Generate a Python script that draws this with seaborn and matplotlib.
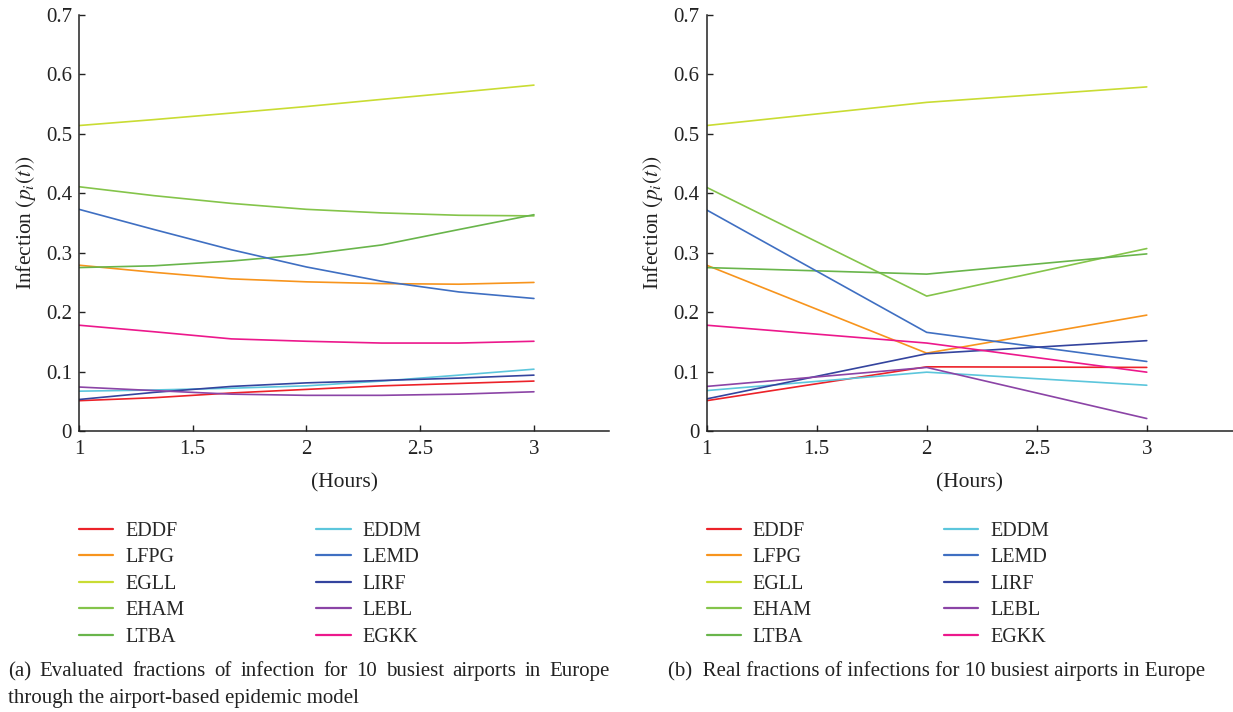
import numpy as np
import pandas as pd
import seaborn as sns
import matplotlib.pyplot as plt
from matplotlib.ticker import FuncFormatter

# Airports and colours
airports = ["EDDF", "LFPG", "EGLL", "EHAM", "LTBA", "EDDM", "LEMD", "LIRF", "LEBL", "EGKK"]
colors = ["#ec2229", "#f7941d", "#c9dc33", "#84c44a", "#69b54b",
          "#5cc6dc", "#3f6fc2", "#34449e", "#8b44a6", "#ec188c"]

# (a) evaluated by the airport-based epidemic model
hours_model = [1, 1.33, 1.67, 2, 2.33, 2.67, 3]
model_eddf = [0.051, 0.056, 0.064, 0.070, 0.076, 0.080, 0.084]
model_lfpg = [0.279, 0.267, 0.256, 0.251, 0.248, 0.247, 0.250]
model_egll = [0.514, 0.524, 0.535, 0.546, 0.558, 0.570, 0.582]
model_eham = [0.411, 0.396, 0.383, 0.373, 0.367, 0.363, 0.362]
model_ltba = [0.275, 0.278, 0.286, 0.297, 0.313, 0.339, 0.364]
model_eddm = [0.067, 0.069, 0.072, 0.076, 0.084, 0.094, 0.104]
model_lemd = [0.373, 0.339, 0.305, 0.276, 0.252, 0.234, 0.223]
model_lirf = [0.053, 0.065, 0.075, 0.081, 0.085, 0.089, 0.094]
model_lebl = [0.074, 0.068, 0.062, 0.060, 0.060, 0.062, 0.066]
model_egkk = [0.178, 0.167, 0.155, 0.151, 0.148, 0.148, 0.151]

# (b) real fractions
hours_real = [1, 2, 3]
real_eddf = [0.051, 0.108, 0.107]
real_lfpg = [0.279, 0.131, 0.195]
real_egll = [0.514, 0.553, 0.579]
real_eham = [0.410, 0.227, 0.307]
real_ltba = [0.275, 0.264, 0.298]
real_eddm = [0.068, 0.099, 0.077]
real_lemd = [0.372, 0.166, 0.117]
real_lirf = [0.054, 0.130, 0.152]
real_lebl = [0.075, 0.107, 0.021]
real_egkk = [0.178, 0.148, 0.099]

model_vals = [model_eddf, model_lfpg, model_egll, model_eham, model_ltba,
              model_eddm, model_lemd, model_lirf, model_lebl, model_egkk]
real_vals = [real_eddf, real_lfpg, real_egll, real_eham, real_ltba,
             real_eddm, real_lemd, real_lirf, real_lebl, real_egkk]

caption_a1 = "(a) Evaluated fractions of infection for 10 busiest airports in Europe"
caption_a2 = "through the airport-based epidemic model"
caption_b = "(b)  Real fractions of infections for 10 busiest airports in Europe"


def long_df(hours, vals):
    rows = []
    for name, v in zip(airports, vals):
        for h, y in zip(hours, v):
            rows.append({"hours": h, "infection": y, "airport": name})
    return pd.DataFrame(rows)


sns.set_theme(style="white")
plt.rcParams["font.family"] = ["Liberation Serif", "DejaVu Serif"]
plt.rcParams["mathtext.fontset"] = "stix"

W, H = 1233, 712
fig = plt.figure(figsize=(W / 100, H / 100), dpi=100)
palette = dict(zip(airports, colors))
ink = "#222222"


def panel(rect, df, xmax):
    ax = fig.add_axes(rect)
    sns.lineplot(data=df, x="hours", y="infection", hue="airport", hue_order=airports,
                 palette=palette, linewidth=1.2, ax=ax, estimator=None, sort=False)
    ax.set_xlim(1, xmax)
    ax.set_ylim(0, 0.7)
    ax.set_xticks([1, 1.5, 2, 2.5, 3])
    ax.set_yticks(np.arange(0, 0.71, 0.1))
    ax.xaxis.set_major_formatter(FuncFormatter(lambda v, p: f"{v:g}"))
    ax.yaxis.set_major_formatter(FuncFormatter(lambda v, p: f"{v:g}"))
    for s in ["top", "right"]:
        ax.spines[s].set_visible(False)
    for s in ["left", "bottom"]:
        ax.spines[s].set_color(ink)
        ax.spines[s].set_linewidth(1.1)
    ax.tick_params(direction="in", length=4, width=1, color=ink,
                   labelsize=15, colors=ink, left=True, bottom=True)
    ax.tick_params(axis="x", pad=6.5)
    ax.tick_params(axis="y", pad=5)
    ax.set_xlabel("(Hours)", fontsize=15.5, labelpad=10, color=ink)
    ax.set_ylabel("Infection $(p_i(t))$", fontsize=15.5, labelpad=6, color=ink)
    sns.move_legend(ax, "upper left", bbox_to_anchor=(0.0, -0.218), ncol=2, frameon=False,
                    title=None, fontsize=14.5, handlelength=1.7, handletextpad=0.6,
                    columnspacing=6.55, labelspacing=0.37, borderpad=0, borderaxespad=0)
    for line in ax.get_legend().get_lines():
        line.set_linewidth(1.6)
    return ax


ax1 = panel([79 / W, 1 - 431 / H, 530 / W, 416 / H], long_df(hours_model, model_vals), 3.33)
ax2 = panel([706.6 / W, 1 - 431 / H, 526 / W, 416 / H], long_df(hours_real, real_vals), 3.39)

# caption (a): first line justified between x=8 and x=610, words on a common baseline
fig.canvas.draw()
renderer = fig.canvas.get_renderer()
words = caption_a1.split(" ")
texts = [fig.text(0, 1 - 676 / H, w, fontsize=15, va="baseline", ha="left", color=ink)
         for w in words]
widths = [t.get_window_extent(renderer).width for t in texts]
gap = (610 - 8 - sum(widths)) / (len(words) - 1)
x = 8
for t, w in zip(texts, widths):
    t.set_x(x / W)
    x += w + gap
fig.text(8 / W, 1 - 703 / H, caption_a2, fontsize=15, va="baseline", ha="left", color=ink)
fig.text(668 / W, 1 - 676 / H, caption_b, fontsize=15, va="baseline", ha="left", color=ink)

fig.savefig("out.png", dpi=100)
